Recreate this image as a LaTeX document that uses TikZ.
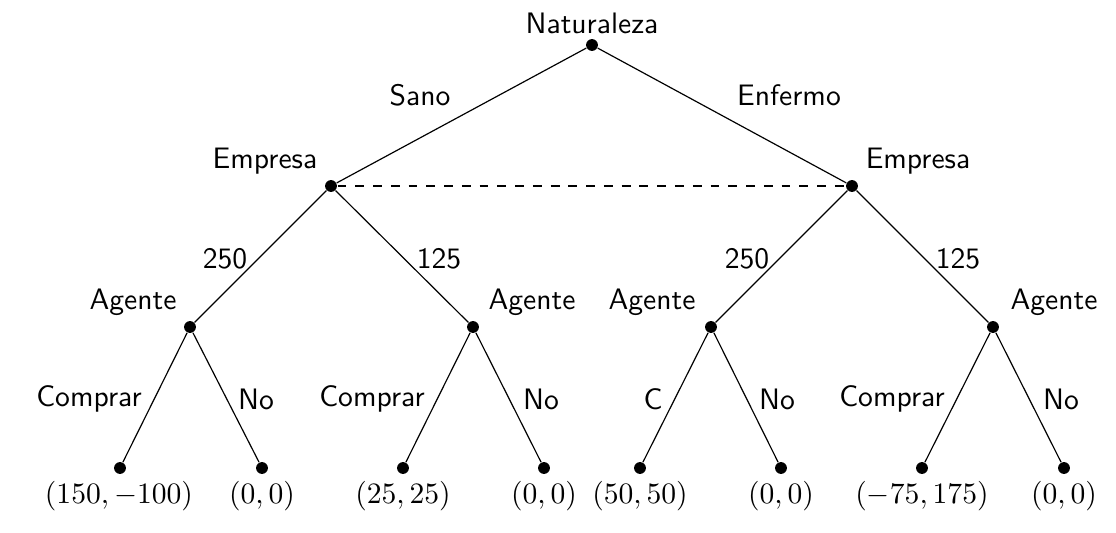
\documentclass[tikz,border=0pt]{standalone}
\begin{document}
\begin{tikzpicture}[x=0.3378pt,y=-0.3378pt,
  dot/.style={circle,fill=black,inner sep=0pt,minimum size=4pt},
  lbl/.style={font=\sffamily,anchor=base,inner sep=0pt},
  pay/.style={anchor=base,inner sep=0pt}]
\useasboundingbox (0,0) rectangle (1116,532);
% vertices
\node[dot] (r) at (592,45) {};
\node[dot] (e1) at (331,186) {};
\node[dot] (e2) at (852,186) {};
\node[dot] (a1) at (190,327) {};
\node[dot] (a2) at (473,327) {};
\node[dot] (a3) at (711,327) {};
\node[dot] (a4) at (993,327) {};
\node[dot] (t1) at (120,468) {};
\node[dot] (t2) at (262,468) {};
\node[dot] (t3) at (403,468) {};
\node[dot] (t4) at (544,468) {};
\node[dot] (t5) at (640,468) {};
\node[dot] (t6) at (781,468) {};
\node[dot] (t7) at (922,468) {};
\node[dot] (t8) at (1064,468) {};
% edges
\draw (r) -- (e1);
\draw (r) -- (e2);
\draw (e1) -- (a1);
\draw (e1) -- (a2);
\draw (e2) -- (a3);
\draw (e2) -- (a4);
\draw (a1) -- (t1);
\draw (a1) -- (t2);
\draw (a2) -- (t3);
\draw (a2) -- (t4);
\draw (a3) -- (t5);
\draw (a3) -- (t6);
\draw (a4) -- (t7);
\draw (a4) -- (t8);
\draw[dashed] (e1) -- (e2);
% player labels
\node[lbl] (ln) at (592,33) {Naturaleza};
\node[lbl] (le1) at (265,168) {Empresa};
\node[lbl] (le2) at (918,168) {Empresa};
\node[lbl] (la1) at (133,309) {Agente};
\node[lbl] (la2) at (532,309) {Agente};
\node[lbl] (la3) at (652,309) {Agente};
\node[lbl] (la4) at (1054,309) {Agente};
% action labels
\node[lbl] (s1) at (420,105) {Sano};
\node[lbl] (s2) at (789,105) {Enfermo};
\node[lbl] (w1) at (225,268) {250};
\node[lbl] (w2) at (439,268) {125};
\node[lbl] (w3) at (747,268) {250};
\node[lbl] (w4) at (958,268) {125};
\node[lbl] (c1) at (89,406) {Comprar};
\node[lbl] (n1) at (256,409) {No};
\node[lbl] (c2) at (372,406) {Comprar};
\node[lbl] (n2) at (541,409) {No};
\node[lbl] (c3) at (653,409) {C};
\node[lbl] (n3) at (777,409) {No};
\node[lbl] (c4) at (892,406) {Comprar};
\node[lbl] (n4) at (1061,409) {No};
% payoffs
\node[pay] (p1) at (119,503) {$(150,-100)$};
\node[pay] (p2) at (262,503) {$(0,0)$};
\node[pay] (p3) at (403,503) {$(25,25)$};
\node[pay] (p4) at (544,503) {$(0,0)$};
\node[pay] (p5) at (640,503) {$(50,50)$};
\node[pay] (p6) at (781,503) {$(0,0)$};
\node[pay] (p7) at (922,503) {$(-75,175)$};
\node[pay] (p8) at (1064,503) {$(0,0)$};
\end{tikzpicture}
\end{document}
